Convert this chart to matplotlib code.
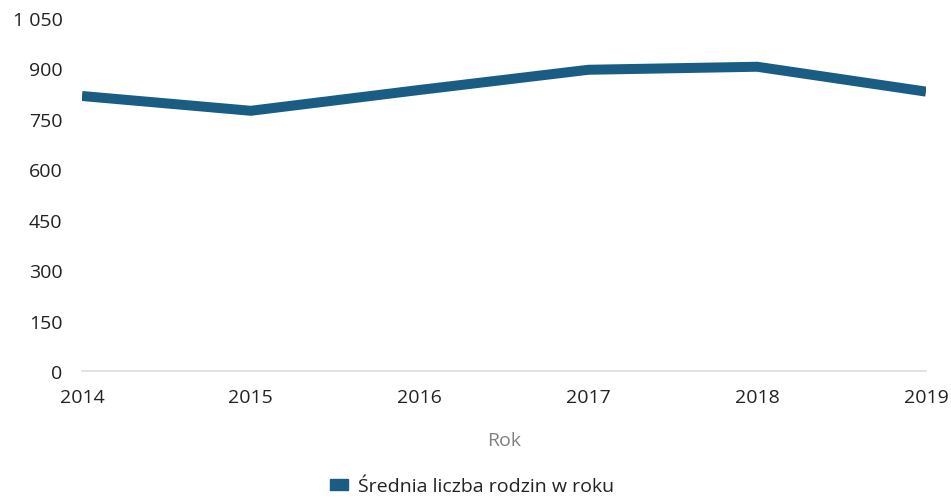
import matplotlib.pyplot as plt
from matplotlib.patches import Patch

plt.rcParams['font.family'] = ['Open Sans', 'DejaVu Sans']

years = [2014, 2015, 2016, 2017, 2018, 2019]
families = [818, 774, 836, 896, 905, 831]
yticks = [0, 150, 300, 450, 600, 750, 900, 1050]
ytick_labels = ['0', '150', '300', '450', '600', '750', '900', '1 050']

line_color = '#1a5d84'
text_color = '#222222'

fig = plt.figure(figsize=[9.51, 5.02], dpi=100)
ax = fig.add_axes([82/951, 1-372/502, (926-82)/951, (372-19)/502])

ax.plot(years, families, color=line_color, linewidth=7.2,
        solid_joinstyle='miter', solid_capstyle='butt', zorder=3)

ax.set_xlim(2014, 2019)
ax.set_ylim(0, 1050)
ax.set_yticks(yticks)
ax.set_yticklabels(ytick_labels)
ax.set_xticks(years)
ax.set_xticklabels([str(y) for y in years])

for s in ['top', 'right', 'left', 'bottom']:
    ax.spines[s].set_visible(False)
ax.axhline(0, color='#dddddd', linewidth=1.2, zorder=1, clip_on=False)

ax.tick_params(axis='both', length=0, labelsize=14, labelcolor=text_color)
ax.tick_params(axis='y', pad=14)
ax.tick_params(axis='x', pad=12)

ax.set_xlabel('Rok', fontsize=14, color='#808080', labelpad=18)

handle = Patch(facecolor=line_color, edgecolor=line_color, label='Średnia liczba rodzin w roku')
fig.legend(handles=[handle], loc='center', bbox_to_anchor=(472/951, 1-487/502),
           frameon=False, fontsize=14, handlelength=0.9, handleheight=0.5,
           handletextpad=0.5, labelcolor=text_color)

fig.savefig('out.png', dpi=100)
plt.close()
